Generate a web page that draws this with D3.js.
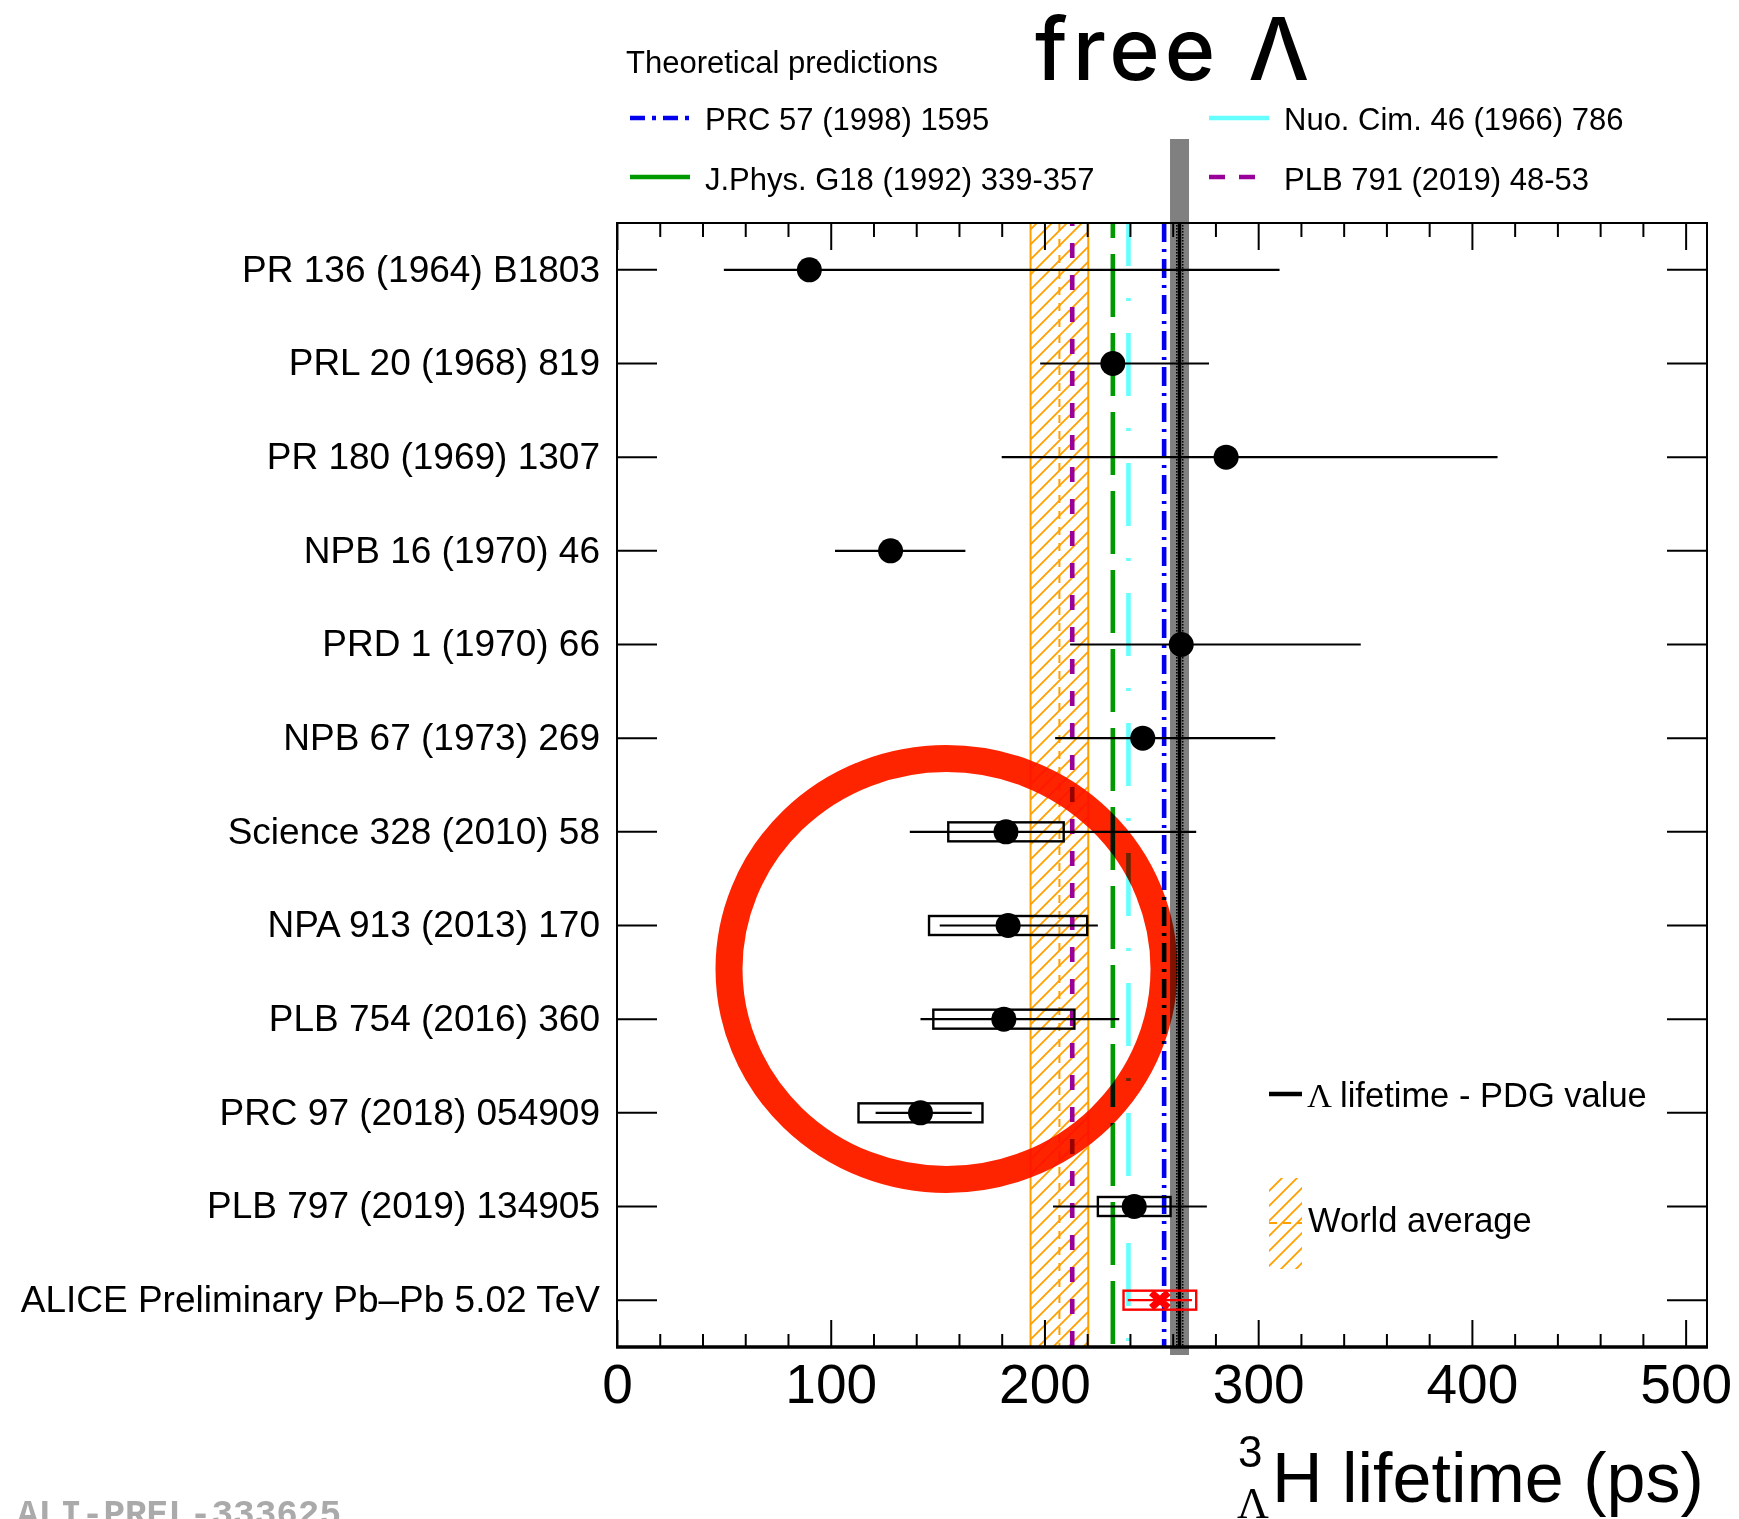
<!DOCTYPE html>
<html>
<head>
<meta charset="utf-8">
<script src="https://cdn.jsdelivr.net/npm/d3@7"></script>
<style>
  html, body { margin: 0; padding: 0; background: #fff; }
  svg { display: block; }
</style>
</head>
<body>
<script>
// ---- data -------------------------------------------------------------
const refs = [
  "PR 136 (1964) B1803",
  "PRL 20 (1968) 819",
  "PR 180 (1969) 1307",
  "NPB 16 (1970) 46",
  "PRD 1 (1970) 66",
  "NPB 67 (1973) 269",
  "Science 328 (2010) 58",
  "NPA 913 (2013) 170",
  "PLB 754 (2016) 360",
  "PRC 97 (2018) 054909",
  "PLB 797 (2019) 134905",
  "ALICE Preliminary Pb\u2013Pb 5.02 TeV"
];
// lifetime (ps), asymmetric statistical errors and symmetric systematic errors
const lifetimes = [90, 232, 285, 128, 264, 246, 182, 183, 181, 142, 242, 254];
const statUp    = [220, 45, 127, 35, 84, 62, 89, 42, 54, 24, 34, 15];
const statDown  = [40, 34, 105, 26, 52, 41, 45, 32, 39, 21, 38, 15];
const systErr   = [null, null, null, null, null, null, 27, 37, 33, 29, 17, 17];
const isPreliminary = [false, false, false, false, false, false, false, false, false, false, false, true];

// theory predictions (ps)
const theoryRefs   = ["PRC 57 (1998) 1595", "Nuo. Cim. 46 (1966) 786", "J.Phys. G18 (1992) 339-357", "PLB 791 (2019) 48-53"];
const theoryValues = [256, 239.3, 232, 213];

// world average and free Lambda lifetime (ps)
const worldAverage = { value: 207, low: 193.5, high: 220.5 };
const lambdaPDG    = { value: 263.2, err: 2.0 };

const xTickValues  = [0, 100, 200, 300, 400, 500];
const xMinorValues = d3.range(0, 511, 20);
const xDomain      = [0, 510];

// ---- layout -------------------------------------------------------------
const W = 1739, H = 1519;
const frame = { left: 617, right: 1707, top: 223, bottom: 1347 };
const sans = "'Liberation Sans', Arial, Helvetica, sans-serif";
const serif = "'Liberation Serif', 'Times New Roman', serif";

const x = d3.scaleLinear().domain(xDomain).range([frame.left, frame.right]);
const y = d3.scaleBand().domain(refs).range([frame.top, frame.bottom]);
const yc = r => y(r) + y.bandwidth() / 2;

const svg = d3.select("body").append("svg")
  .attr("width", W).attr("height", H)
  .attr("viewBox", `0 0 ${W} ${H}`);

const defs = svg.append("defs");
const orange = "#ffa000";

// diagonal hatch used by the world-average band
const hatch = defs.append("pattern")
  .attr("id", "hatch").attr("patternUnits", "userSpaceOnUse")
  .attr("width", 15).attr("height", 15);
hatch.append("path")
  .attr("d", "M0,15 L15,0 M-3.75,3.75 L3.75,-3.75 M11.25,18.75 L18.75,11.25")
  .attr("stroke", orange).attr("stroke-width", 1.8).attr("fill", "none");

// dotted fill for the PDG uncertainty
const dots = defs.append("pattern")
  .attr("id", "dots").attr("patternUnits", "userSpaceOnUse")
  .attr("width", 3).attr("height", 3);
dots.append("rect").attr("width", 1.6).attr("height", 1.6).attr("fill", "#000");

defs.append("clipPath").attr("id", "frameClip")
  .append("rect")
  .attr("x", frame.left).attr("y", frame.top)
  .attr("width", frame.right - frame.left).attr("height", frame.bottom - frame.top);

// drawing layers, back to front
const bandLayer   = svg.append("g").attr("clip-path", "url(#frameClip)");
const theoryLayer = svg.append("g").attr("clip-path", "url(#frameClip)");
const pdgLayer    = svg.append("g");
const axisLayer   = svg.append("g");
const dataLayer   = svg.append("g");
const frameLayer  = svg.append("g");
const textLayer   = svg.append("g");
const markLayer   = svg.append("g");

// ---- world average band ---------------------------------------------------
bandLayer.append("rect")
  .attr("x", x(worldAverage.low)).attr("y", frame.top)
  .attr("width", x(worldAverage.high) - x(worldAverage.low))
  .attr("height", frame.bottom - frame.top)
  .attr("fill", "url(#hatch)");
[worldAverage.low, worldAverage.high].forEach(v => {
  bandLayer.append("line")
    .attr("x1", x(v)).attr("x2", x(v))
    .attr("y1", frame.top).attr("y2", frame.bottom)
    .attr("stroke", orange).attr("stroke-width", 2);
});
bandLayer.append("line")
  .attr("x1", x(worldAverage.value)).attr("x2", x(worldAverage.value))
  .attr("y1", frame.top).attr("y2", frame.bottom)
  .attr("stroke", orange).attr("stroke-width", 2)
  .attr("stroke-dasharray", "8,8");

// ---- theory lines ------------------------------------------------------------
const theoryStyle = [
  { color: "#0000ee", dash: "19,7,3,7", offset: 0 },
  { color: "#66ffff", dash: "63,32,3,32", offset: 20 },
  { color: "#009900", dash: "63,16", offset: 48 },
  { color: "#990099", dash: "15,17", offset: 12 }
];
theoryValues.forEach((v, i) => {
  theoryLayer.append("line")
    .attr("x1", x(v)).attr("x2", x(v))
    .attr("y1", frame.top).attr("y2", frame.bottom)
    .attr("stroke", theoryStyle[i].color)
    .attr("stroke-width", 4.6)
    .attr("stroke-dasharray", theoryStyle[i].dash)
    .attr("stroke-dashoffset", theoryStyle[i].offset);
});

// ---- free Lambda lifetime (PDG) --------------------------------------------
pdgLayer.append("line")
  .attr("x1", x(lambdaPDG.value)).attr("x2", x(lambdaPDG.value))
  .attr("y1", 139).attr("y2", 1355)
  .attr("stroke", "#808080").attr("stroke-width", 19);
const pdgInner = pdgLayer.append("g").attr("clip-path", "url(#frameClip)");
pdgInner.append("rect")
  .attr("x", x(lambdaPDG.value - lambdaPDG.err)).attr("y", frame.top)
  .attr("width", x(lambdaPDG.value + lambdaPDG.err) - x(lambdaPDG.value - lambdaPDG.err))
  .attr("height", frame.bottom - frame.top)
  .attr("fill", "url(#dots)");
pdgInner.append("line")
  .attr("x1", x(lambdaPDG.value)).attr("x2", x(lambdaPDG.value))
  .attr("y1", frame.top).attr("y2", frame.bottom)
  .attr("stroke", "#000").attr("stroke-width", 3.5);

// ---- axes -----------------------------------------------------------------
function styleAxis(g, fontSize) {
  g.select(".domain").remove();
  g.selectAll(".tick line").attr("stroke", "#000").attr("stroke-width", 2);
  g.selectAll("text").attr("font-family", sans).attr("font-size", fontSize).attr("fill", "#000");
}
const minorOnly = xMinorValues.filter(v => v % 100 !== 0);

axisLayer.append("g").attr("transform", `translate(0,${frame.bottom})`)
  .call(d3.axisBottom(x).tickValues(minorOnly).tickSize(-13).tickFormat(""))
  .call(g => styleAxis(g, 10));
axisLayer.append("g").attr("transform", `translate(0,${frame.bottom})`)
  .call(d3.axisBottom(x).tickValues(xTickValues).tickSize(-27).tickPadding(17).tickFormat(d3.format("d")))
  .call(g => styleAxis(g, 55));
axisLayer.append("g").attr("transform", `translate(0,${frame.top})`)
  .call(d3.axisTop(x).tickValues(minorOnly).tickSize(-14).tickFormat(""))
  .call(g => styleAxis(g, 10));
axisLayer.append("g").attr("transform", `translate(0,${frame.top})`)
  .call(d3.axisTop(x).tickValues(xTickValues).tickSize(-27).tickFormat(""))
  .call(g => styleAxis(g, 10));

axisLayer.append("g").attr("transform", `translate(${frame.left},0)`)
  .call(d3.axisLeft(y).tickSize(-40).tickPadding(17))
  .call(g => styleAxis(g, 37));
axisLayer.append("g").attr("transform", `translate(${frame.right},0)`)
  .call(d3.axisRight(y).tickSize(-40).tickFormat(""))
  .call(g => styleAxis(g, 10));

// ---- measurements --------------------------------------------------------------
const rows = refs.map((r, i) => ({
  ref: r, v: lifetimes[i], up: statUp[i], down: statDown[i],
  syst: systErr[i], prelim: isPreliminary[i]
}));
rows.forEach(d => {
  const col = d.prelim ? "#ff0000" : "#000";
  const cy = yc(d.ref);
  if (d.syst !== null) {
    dataLayer.append("rect")
      .attr("x", x(d.v - d.syst)).attr("y", cy - 9.5)
      .attr("width", x(d.v + d.syst) - x(d.v - d.syst)).attr("height", 19)
      .attr("fill", "none").attr("stroke", col).attr("stroke-width", 2.4);
  }
  dataLayer.append("line")
    .attr("x1", x(d.v - d.down)).attr("x2", x(d.v + d.up))
    .attr("y1", cy).attr("y2", cy)
    .attr("stroke", col).attr("stroke-width", 2.2);
  if (d.prelim) {
    dataLayer.append("path")
      .attr("transform", `translate(${x(d.v)},${cy})`)
      .attr("d", "M-8.5,-7.5 L8.5,7.5 M-8.5,7.5 L8.5,-7.5")
      .attr("stroke", col).attr("stroke-width", 7).attr("fill", "none");
  } else {
    dataLayer.append("circle")
      .attr("cx", x(d.v)).attr("cy", cy).attr("r", 12.5)
      .attr("fill", "#000");
  }
});

// ---- frame -----------------------------------------------------------------
frameLayer.append("rect")
  .attr("x", frame.left).attr("y", frame.top)
  .attr("width", frame.right - frame.left).attr("height", frame.bottom - frame.top)
  .attr("fill", "none").attr("stroke", "#000").attr("stroke-width", 2);
frameLayer.append("line")
  .attr("x1", frame.left - 1).attr("x2", frame.right + 1)
  .attr("y1", frame.bottom).attr("y2", frame.bottom)
  .attr("stroke", "#000").attr("stroke-width", 3.5);

// ---- axis title ----------------------------------------------------------------
const title = textLayer.append("g").attr("font-family", sans).attr("fill", "#000");
title.append("text").attr("x", 1238).attr("y", 1467).attr("font-size", 44).text("3");
title.append("text").attr("x", 1237).attr("y", 1518).attr("font-size", 44)
  .attr("font-family", serif).text("\u039B");
title.append("text").attr("x", 1272).attr("y", 1502).attr("font-size", 70).text("H lifetime (ps)");

// ---- headline and theory legend ----------------------------------------------
textLayer.append("text")
  .attr("x", 1035).attr("y", 80)
  .attr("font-family", "Inter, 'Open Sans', sans-serif").attr("font-weight", 500)
  .attr("font-size", 86).attr("letter-spacing", 5).attr("fill", "#000")
  .text("free \u039B");

const leg = textLayer.append("g").attr("font-family", sans).attr("font-size", 31).attr("fill", "#000");
leg.append("text").attr("x", 626).attr("y", 73).text("Theoretical predictions");
const legPos = [
  { lx: 630, ty: 130, ly: 118 },
  { lx: 1209, ty: 130, ly: 118 },
  { lx: 630, ty: 190, ly: 177 },
  { lx: 1209, ty: 190, ly: 177 }
];
const legDash = ["15,7,4,7", null, null, "16,14"];
theoryRefs.forEach((t, i) => {
  const p = legPos[i];
  leg.append("line")
    .attr("x1", p.lx).attr("x2", p.lx + 60)
    .attr("y1", p.ly).attr("y2", p.ly)
    .attr("stroke", theoryStyle[i].color).attr("stroke-width", 4.6)
    .attr("stroke-dasharray", legDash[i]);
  leg.append("text").attr("x", p.lx + 75).attr("y", p.ty).text(t);
});

// ---- lifetime / world average legend ---------------------------------------------
const leg2 = textLayer.append("g").attr("font-family", sans).attr("font-size", 34.5).attr("fill", "#000");
leg2.append("line")
  .attr("x1", 1269).attr("x2", 1302).attr("y1", 1094).attr("y2", 1094)
  .attr("stroke", "#000").attr("stroke-width", 4.5);
const pdgText = leg2.append("text").attr("x", 1307).attr("y", 1107);
pdgText.append("tspan").attr("font-family", serif).text("\u039B");
pdgText.append("tspan").attr("dx", 8).text("lifetime - PDG value");

leg2.append("rect")
  .attr("x", 1269).attr("y", 1178).attr("width", 33).attr("height", 91)
  .attr("fill", "url(#hatch)");
leg2.append("line")
  .attr("x1", 1269).attr("x2", 1302).attr("y1", 1223).attr("y2", 1223)
  .attr("stroke", orange).attr("stroke-width", 2).attr("stroke-dasharray", "8,6");
leg2.append("text").attr("x", 1308).attr("y", 1232).text("World average");

// ---- figure id ----------------------------------------------------------------
textLayer.append("text")
  .attr("x", 17).attr("y", 1525)
  .attr("font-family", "'Liberation Mono', 'DejaVu Sans Mono', monospace")
  .attr("font-weight", 700).attr("font-size", 36)
  .attr("fill", "#aaaaaa")
  .text("ALI-PREL-333625");

// ---- highlight ring around the recent measurements ---------------------------------
markLayer.append("ellipse")
  .attr("cx", 946.5).attr("cy", 969)
  .attr("rx", 217.5).attr("ry", 210.5)
  .attr("fill", "none")
  .attr("stroke", "#ff2400").attr("stroke-width", 27)
  .style("mix-blend-mode", "multiply");
</script>
</body>
</html>
